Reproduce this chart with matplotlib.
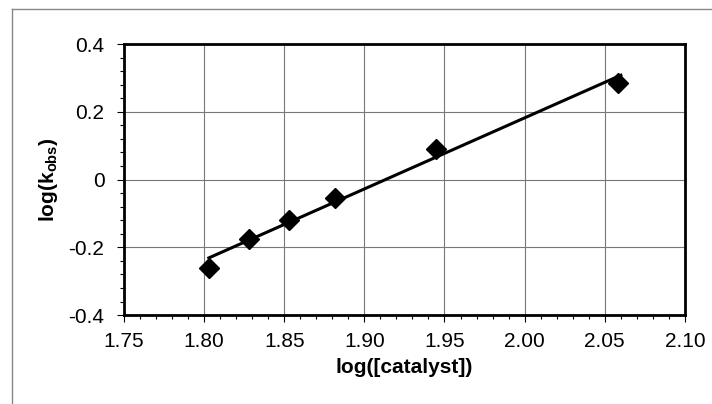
import matplotlib

matplotlib.use("Agg")
import matplotlib.pyplot as plt
import numpy as np
from matplotlib.lines import Line2D
from matplotlib.ticker import MultipleLocator, FixedFormatter, FixedLocator

# data
log_cat = [1.803, 1.828, 1.853, 1.882, 1.945, 2.058]
log_kobs = [-0.26, -0.175, -0.118, -0.053, 0.09, 0.285]

x_ticks = [1.75, 1.80, 1.85, 1.90, 1.95, 2.00, 2.05, 2.10]
y_ticks = [-0.4, -0.2, 0.0, 0.2, 0.4]
y_labels = ["-0.4", "-0.2", "0", "0.2", "0.4"]

plt.rcParams["font.family"] = ["Liberation Sans", "DejaVu Sans"]
plt.rcParams["mathtext.fontset"] = "custom"
plt.rcParams["mathtext.bf"] = "Liberation Sans:bold"
plt.rcParams["mathtext.rm"] = "Liberation Sans"

fig = plt.figure(figsize=(7.12, 4.04), dpi=100)
ax = fig.add_axes([0.174, 0.220, 0.788, 0.671])

# least squares trend line across the data range
slope, icept = np.polyfit(log_cat, log_kobs, 1)
xl = np.array([log_cat[0], 2.06])
ax.plot(xl, slope * xl + icept, color="black", lw=2.2, zorder=3)
ax.plot(log_cat, log_kobs, "D", color="black", ms=10, zorder=4)

ax.set_xlim(1.75, 2.10)
ax.set_ylim(-0.4, 0.4)
ax.xaxis.set_major_locator(FixedLocator(x_ticks))
ax.set_xticklabels([f"{v:.2f}" for v in x_ticks])
ax.xaxis.set_minor_locator(MultipleLocator(0.01))
ax.yaxis.set_major_locator(FixedLocator(y_ticks))
ax.yaxis.set_major_formatter(FixedFormatter(y_labels))
ax.yaxis.set_minor_locator(MultipleLocator(0.04))

ax.tick_params(which="major", direction="out", length=5, width=0.8,
               labelsize=15)
ax.tick_params(axis="x", which="major", pad=7)
ax.tick_params(axis="y", which="major", pad=9)
ax.tick_params(which="minor", direction="out", length=3, width=0.8)

ax.grid(True, which="major", color="#777777", lw=0.8)
ax.set_axisbelow(True)
for s in ax.spines.values():
    s.set_linewidth(2)
    s.set_color("black")

ax.set_xlabel("log([catalyst])", fontsize=15, fontweight="bold", labelpad=5)
ax.set_ylabel(r"log(k$_{\mathbf{obs}}$)", fontsize=15, fontweight="bold",
              labelpad=6)

# thin grey frame around the figure (top and left edges only)
fig.add_artist(Line2D([12 / 712, 1.0], [1 - 9 / 404, 1 - 9 / 404],
                      transform=fig.transFigure, color="#888888", lw=1))
fig.add_artist(Line2D([12 / 712, 12 / 712], [0.0, 1 - 9 / 404],
                      transform=fig.transFigure, color="#888888", lw=1))

fig.savefig("out.png", dpi=100)
